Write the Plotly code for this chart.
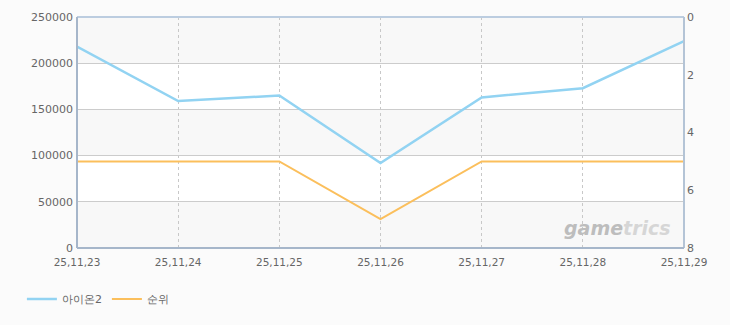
import plotly.graph_objects as go

dates = ["25,11,23", "25,11,24", "25,11,25", "25,11,26", "25,11,27", "25,11,28", "25,11,29"]
aion2 = [218000, 159000, 165000, 92000, 163000, 173000, 224000]
rank = [5, 5, 5, 7, 5, 5, 5]
left_ticks = [0, 50000, 100000, 150000, 200000, 250000]
right_ticks = [0, 2, 4, 6, 8]

fig = go.Figure()

# alternating bands
for i in range(0, len(left_ticks) - 1, 2):
    fig.add_shape(type="rect", xref="x domain", yref="y",
                  x0=0, x1=1, y0=left_ticks[i], y1=left_ticks[i + 1],
                  fillcolor="#f8f8f8", line_width=0, layer="below")

fig.add_trace(go.Scatter(x=dates, y=aion2, name="아이온2", mode="lines",
                         line=dict(color="#92d3f2", width=2.5), yaxis="y"))
fig.add_trace(go.Scatter(x=dates, y=rank, name="순위", mode="lines",
                         line=dict(color="#fbbf5c", width=2), yaxis="y2"))

font = dict(family="DejaVu Sans, Liberation Sans, sans-serif", size=11, color="#666666")
xfont = dict(family="DejaVu Sans, Liberation Sans, sans-serif", size=10.5, color="#666666")

fig.update_layout(
    width=730, height=325,
    margin=dict(l=77, r=46, t=17, b=77, autoexpand=False),
    paper_bgcolor="#fbfbfb", plot_bgcolor="#ffffff",
    font=font,
    showlegend=True,
    legend=dict(orientation="h", x=0.03, xanchor="left", xref="container",
                y=0.08, yanchor="middle", yref="container",
                font=dict(family="DejaVu Sans, sans-serif", size=11, color="#666666"),
                itemwidth=30, bgcolor="rgba(0,0,0,0)"),
    xaxis=dict(type="category", range=[0, len(dates) - 1], showgrid=True,
               gridcolor="#c8c8c8", griddash="3px,3px", gridwidth=1,
               showline=False, zeroline=False, ticks="", tickfont=xfont, ticklabelstandoff=6),
    yaxis=dict(range=[0, 250000], tickvals=left_ticks, tickformat="d", showgrid=True,
               gridcolor="#cccccc", gridwidth=1, zeroline=False, showline=False,
               ticks="", tickfont=font, ticklabelstandoff=3),
    yaxis2=dict(range=[8, 0], tickvals=right_ticks, overlaying="y", side="right",
                showgrid=False, zeroline=False, showline=False, ticks="",
                tickfont=font, ticklabelstandoff=2),
)

# plot border
fig.add_shape(type="line", xref="paper", yref="paper", x0=0, x1=1, y0=1, y1=1,
              line=dict(color="#bccde0", width=2))
fig.add_shape(type="line", xref="paper", yref="paper", x0=1, x1=1, y0=0, y1=1,
              line=dict(color="#b4c4d6", width=2))
fig.add_shape(type="line", xref="paper", yref="paper", x0=0, x1=0, y0=0, y1=1,
              line=dict(color="#a6b6ca", width=2))
fig.add_shape(type="line", xref="paper", yref="paper", x0=0, x1=1, y0=0, y1=0,
              line=dict(color="#a6b6ca", width=2))

fig.add_annotation(text="<b><i><span style='color:#bdbdbd'>game</span>trics</i></b>",
                   xref="paper", yref="paper",
                   x=0.982, y=0.03, xanchor="right", yanchor="bottom", showarrow=False,
                   font=dict(family="DejaVu Sans, sans-serif", size=19, color="#d6d6d6"))

fig.write_html("out.html")
